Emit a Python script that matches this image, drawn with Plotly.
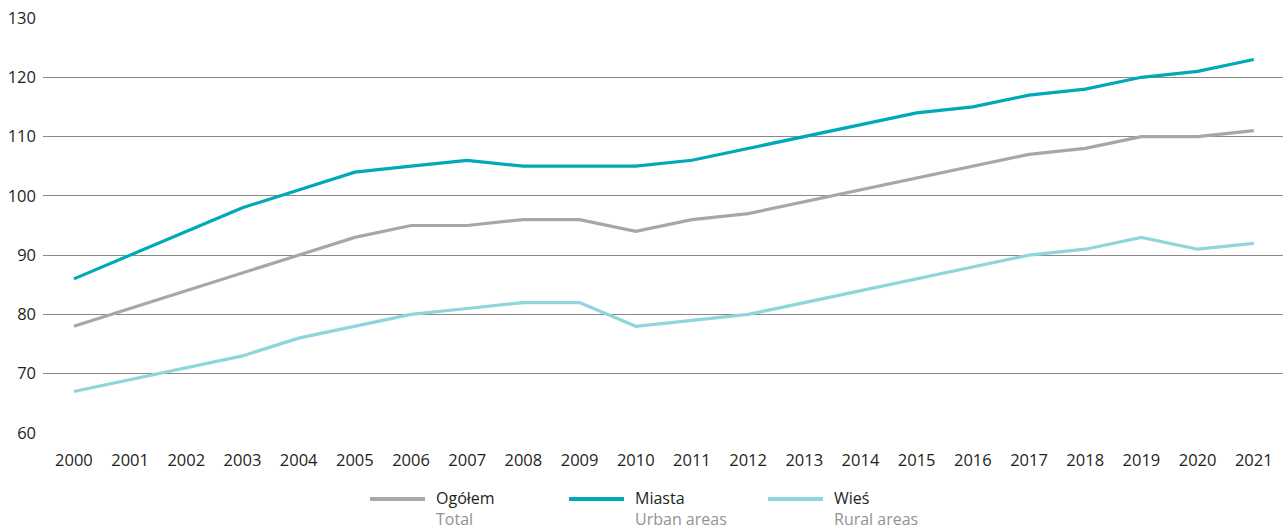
import plotly.graph_objects as go

years = [str(y) for y in range(2000, 2022)]

# index values
ogolem = [78, 81, 84, 87, 90, 93, 95, 95, 96, 96, 94, 96, 97, 99, 101, 103, 105, 107, 108, 110, 110, 111]
miasta = [86, 90, 94, 98, 101, 104, 105, 106, 105, 105, 105, 106, 108, 110, 112, 114, 115, 117, 118, 120, 121, 123]
wies = [67, 69, 71, 73, 76, 78, 80, 81, 82, 82, 78, 79, 80, 82, 84, 86, 88, 90, 91, 93, 91, 92]

names_pl = ["Ogółem", "Miasta", "Wieś"]
names_en = ["Total", "Urban areas", "Rural areas"]
colors = ["#a7a7a9", "#00a9b8", "#8ed5dc"]

W, H = 1283, 530
ML, MR, MT, MB = 43, 0, 18, 97
pw, ph = W - ML - MR, H - MT - MB


def px(x):
    return (x - ML) / pw


def py(y):
    return (H - MB - y) / ph


fig = go.Figure()
for name, vals, col in zip(names_pl, [ogolem, miasta, wies], colors):
    fig.add_trace(go.Scatter(
        x=years, y=vals, mode="lines", name=name,
        line=dict(color=col, width=3.2),
        showlegend=False,
    ))

# hand-made legend below the plot (Polish name over the English one)
for i, (pl, en, col) in enumerate(zip(names_pl, names_en, colors)):
    x0 = 370 + i * 199
    fig.add_shape(type="line", xref="paper", yref="paper",
                  x0=px(x0), x1=px(x0 + 55), y0=py(499), y1=py(499),
                  line=dict(color=col, width=4))
    fig.add_annotation(xref="paper", yref="paper", x=px(x0 + 64), y=py(508),
                       text=f"{pl}<br><span style='color:#939393'>{en}</span>",
                       showarrow=False, xanchor="left", yanchor="middle", align="left",
                       font=dict(size=16, color="#231f20"))

fig.update_layout(
    width=W, height=H,
    margin=dict(l=ML, r=MR, t=MT, b=MB),
    plot_bgcolor="white", paper_bgcolor="white",
    font=dict(family="Open Sans, Noto Sans, sans-serif", size=16.5, color="#231f20"),
    showlegend=False,
    xaxis=dict(
        type="category", range=[-0.55, 21.52], automargin=False,
        showgrid=False, showline=False, ticks="", ticklabelstandoff=15,
        tickfont=dict(size=16.5),
    ),
    yaxis=dict(
        range=[60, 130], dtick=10, showgrid=True, automargin=False,
        gridcolor="#8a8a8a", gridwidth=1, zeroline=False,
        showline=False, ticks="", ticklabelstandoff=6,
        tickfont=dict(size=16.5),
    ),
)

# drop the browser's default page margin so the figure fills the window
fig.write_html("out.html", config={"displayModeBar": False},
               post_script="document.body.style.margin='0';")
